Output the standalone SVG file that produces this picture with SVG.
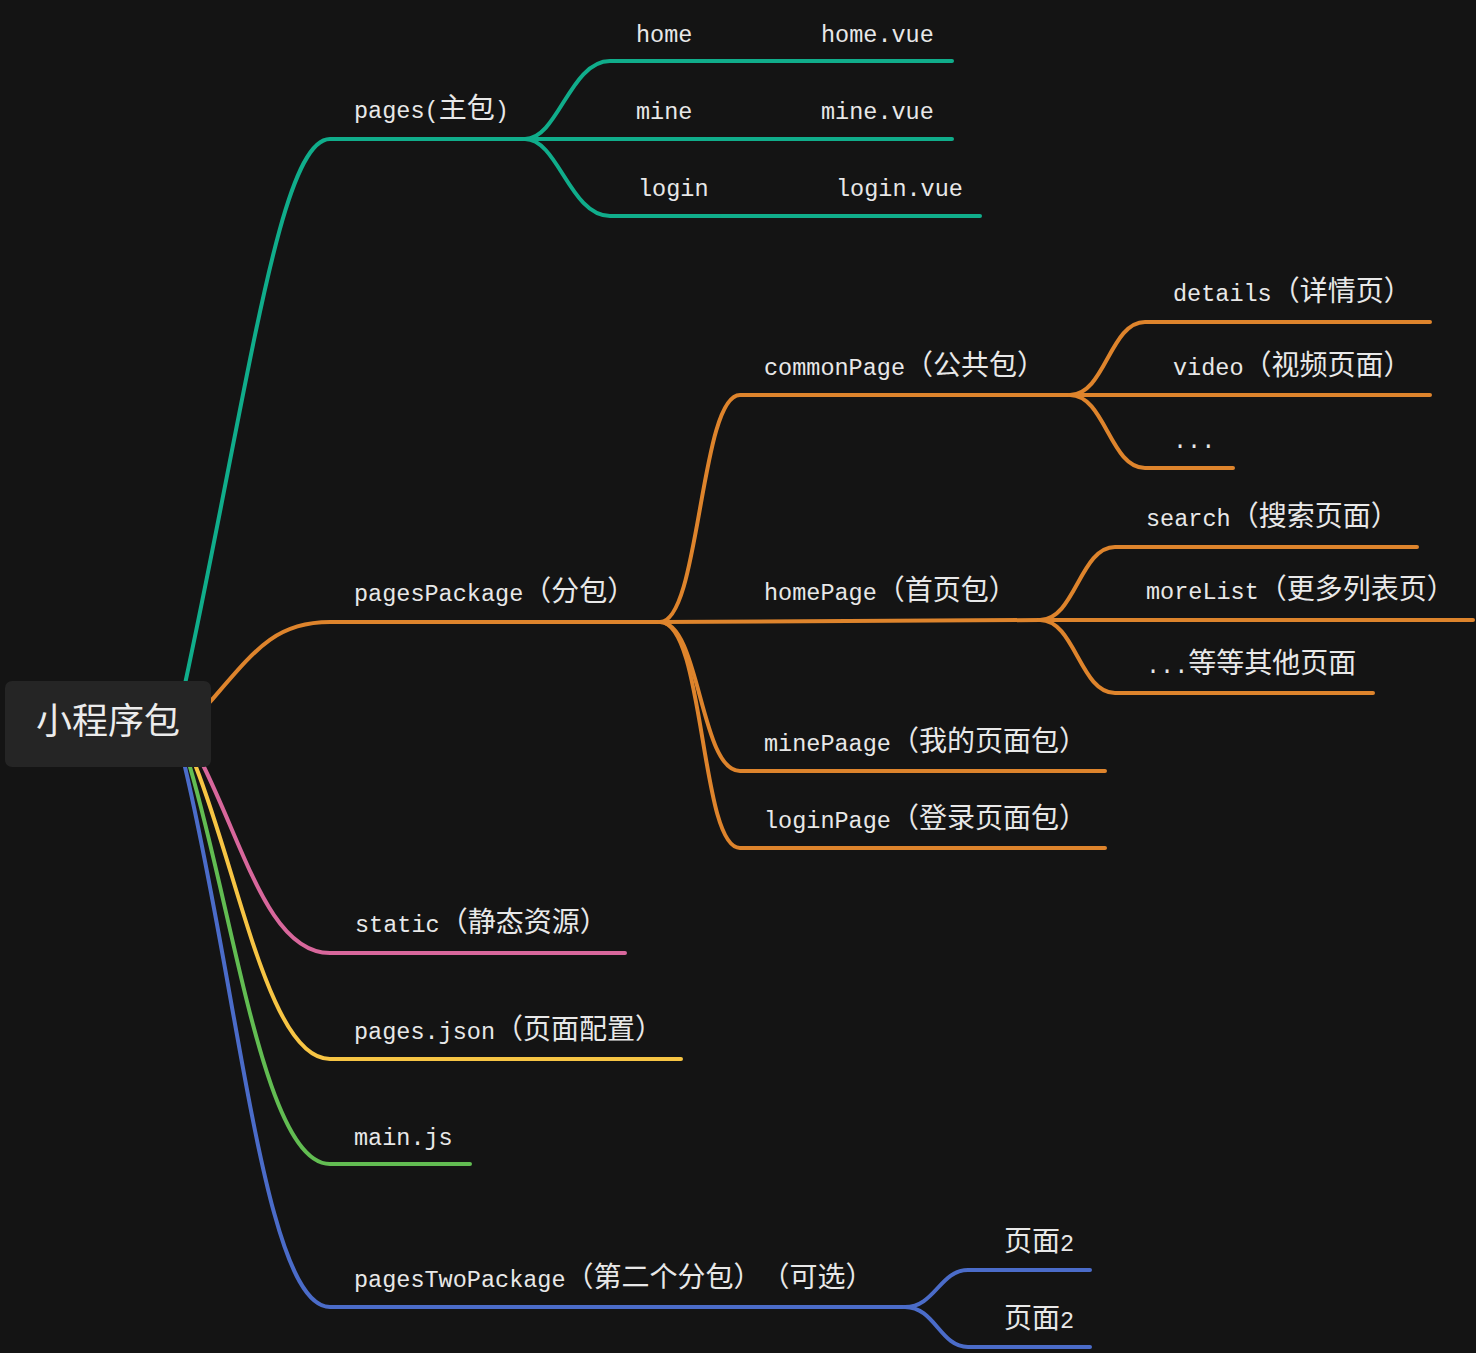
<svg xmlns="http://www.w3.org/2000/svg" width="1476" height="1353" viewBox="0 0 1476 1353">
<style>
.t{font-family:"Liberation Mono","Noto Sans CJK SC",monospace;font-size:23.5px;fill:#e8e8e8;text-spacing-trim:space-all;font-feature-settings:"halt" 0,"chws" 0}
.c{font-family:"Noto Sans CJK SC",sans-serif;font-size:28px;text-spacing-trim:space-all}
.root{font-family:"Noto Sans CJK SC",sans-serif;font-size:36px;fill:#ececec}
.l{fill:none;stroke-width:4;stroke-linecap:round;stroke-linejoin:round}
.teal{stroke:#10ad8b}
.org{stroke:#de842c}
.pink{stroke:#d8679c}
.yel{stroke:#f7c544}
.grn{stroke:#62bd52}
.blu{stroke:#4b6cc9}
</style>
<rect width="1476" height="1353" fill="#141414"/>
<g id="connectors">
  <path class="l teal" d="M185,684 C250,380 280,139 330,139 L525,139"/>
  <path class="l teal" d="M525,139 C558,139 570,61 610,61 L708,61"/>
  <path class="l teal" d="M708,61 L952,61"/>
  <path class="l teal" d="M525,139 L708,139"/>
  <path class="l teal" d="M708,139 L952,139"/>
  <path class="l teal" d="M525,139 C558,139 570,216 610,216 L722,216"/>
  <path class="l teal" d="M722,216 L980,216"/>

  <path class="l org" d="M210,702 C255,650 275,622 330,622 L660,622"/>
  <path class="l org" d="M660,622 C700,622 700,395 740,395 L1070,395"/>
  <path class="l org" d="M1070,395 C1105,395 1110,322 1145,322 L1430,322"/>
  <path class="l org" d="M1070,395 L1430,395"/>
  <path class="l org" d="M1070,395 C1105,395 1110,468 1145,468 L1233,468"/>
  <path class="l org" d="M660,622 L1040,620"/>
  <path class="l org" d="M1040,620 C1075,620 1080,547 1115,547 L1417,547"/>
  <path class="l org" d="M1040,620 L1473,620"/>
  <path class="l org" d="M1040,620 C1075,620 1080,693 1115,693 L1373,693"/>
  <path class="l org" d="M660,622 C700,622 700,771 740,771 L1105,771"/>
  <path class="l org" d="M660,622 C705,622 700,848 740,848 L1105,848"/>

  <path class="l pink" d="M203,765 C245,850 270,953 330,953 L625,953"/>
  <path class="l yel" d="M196,767 C240,880 270,1059 330,1059 L681,1059"/>
  <path class="l grn" d="M190,767 C235,920 265,1164 330,1164 L470,1164"/>
  <path class="l blu" d="M185,767 C240,1000 265,1307 330,1307 L905,1307"/>
  <path class="l blu" d="M905,1307 C935,1307 940,1270 968,1270 L1090,1270"/>
  <path class="l blu" d="M905,1307 C935,1307 940,1347 968,1347 L1090,1347"/>
</g>
<g id="root">
  <rect x="5" y="681" width="206" height="86" rx="7" fill="#252525"/>
  <text class="root" x="108" y="734" text-anchor="middle">小程序包</text>
</g>
<g id="n-pages"><text class="t" x="354" y="118">pages(<tspan class="c">主包</tspan>)</text></g>
<g id="n-home"><text class="t" x="636" y="42">home</text></g>
<g id="n-home-vue"><text class="t" x="821" y="42">home.vue</text></g>
<g id="n-mine"><text class="t" x="636" y="119">mine</text></g>
<g id="n-mine-vue"><text class="t" x="821" y="119">mine.vue</text></g>
<g id="n-login"><text class="t" x="638" y="196">login</text></g>
<g id="n-login-vue"><text class="t" x="836" y="196">login.vue</text></g>

<g id="n-pagesPackage"><text class="t" x="354" y="601">pagesPackage<tspan class="c">（分包）</tspan></text></g>
<g id="n-commonPage"><text class="t" x="764" y="375">commonPage<tspan class="c">（公共包）</tspan></text></g>
<g id="n-details"><text class="t" x="1173" y="301">details<tspan class="c">（详情页）</tspan></text></g>
<g id="n-video"><text class="t" x="1173" y="375">video<tspan class="c">（视频页面）</tspan></text></g>
<g id="n-etc1"><text class="t" x="1173" y="448">...</text></g>
<g id="n-homePage"><text class="t" x="764" y="600">homePage<tspan class="c">（首页包）</tspan></text></g>
<g id="n-search"><text class="t" x="1146" y="526">search<tspan class="c">（搜索页面）</tspan></text></g>
<g id="n-moreList"><text class="t" x="1146" y="599">moreList<tspan class="c">（更多列表页）</tspan></text></g>
<g id="n-others"><text class="t" x="1146" y="673">...<tspan class="c">等等其他页面</tspan></text></g>
<g id="n-minePaage"><text class="t" x="764" y="751">minePaage<tspan class="c">（我的页面包）</tspan></text></g>
<g id="n-loginPage"><text class="t" x="764" y="828">loginPage<tspan class="c">（登录页面包）</tspan></text></g>

<g id="n-static"><text class="t" x="355" y="932">static<tspan class="c">（静态资源）</tspan></text></g>
<g id="n-pagesjson"><text class="t" x="354" y="1039">pages.json<tspan class="c">（页面配置）</tspan></text></g>
<g id="n-mainjs"><text class="t" x="354" y="1145">main.js</text></g>
<g id="n-pagesTwoPackage"><text class="t" x="354" y="1287">pagesTwoPackage<tspan class="c">（第二个分包）（可选）</tspan></text></g>
<g id="n-page2a"><text class="t" x="1004" y="1251"><tspan class="c">页面</tspan>2</text></g>
<g id="n-page2b"><text class="t" x="1004" y="1328"><tspan class="c">页面</tspan>2</text></g>
</svg>
